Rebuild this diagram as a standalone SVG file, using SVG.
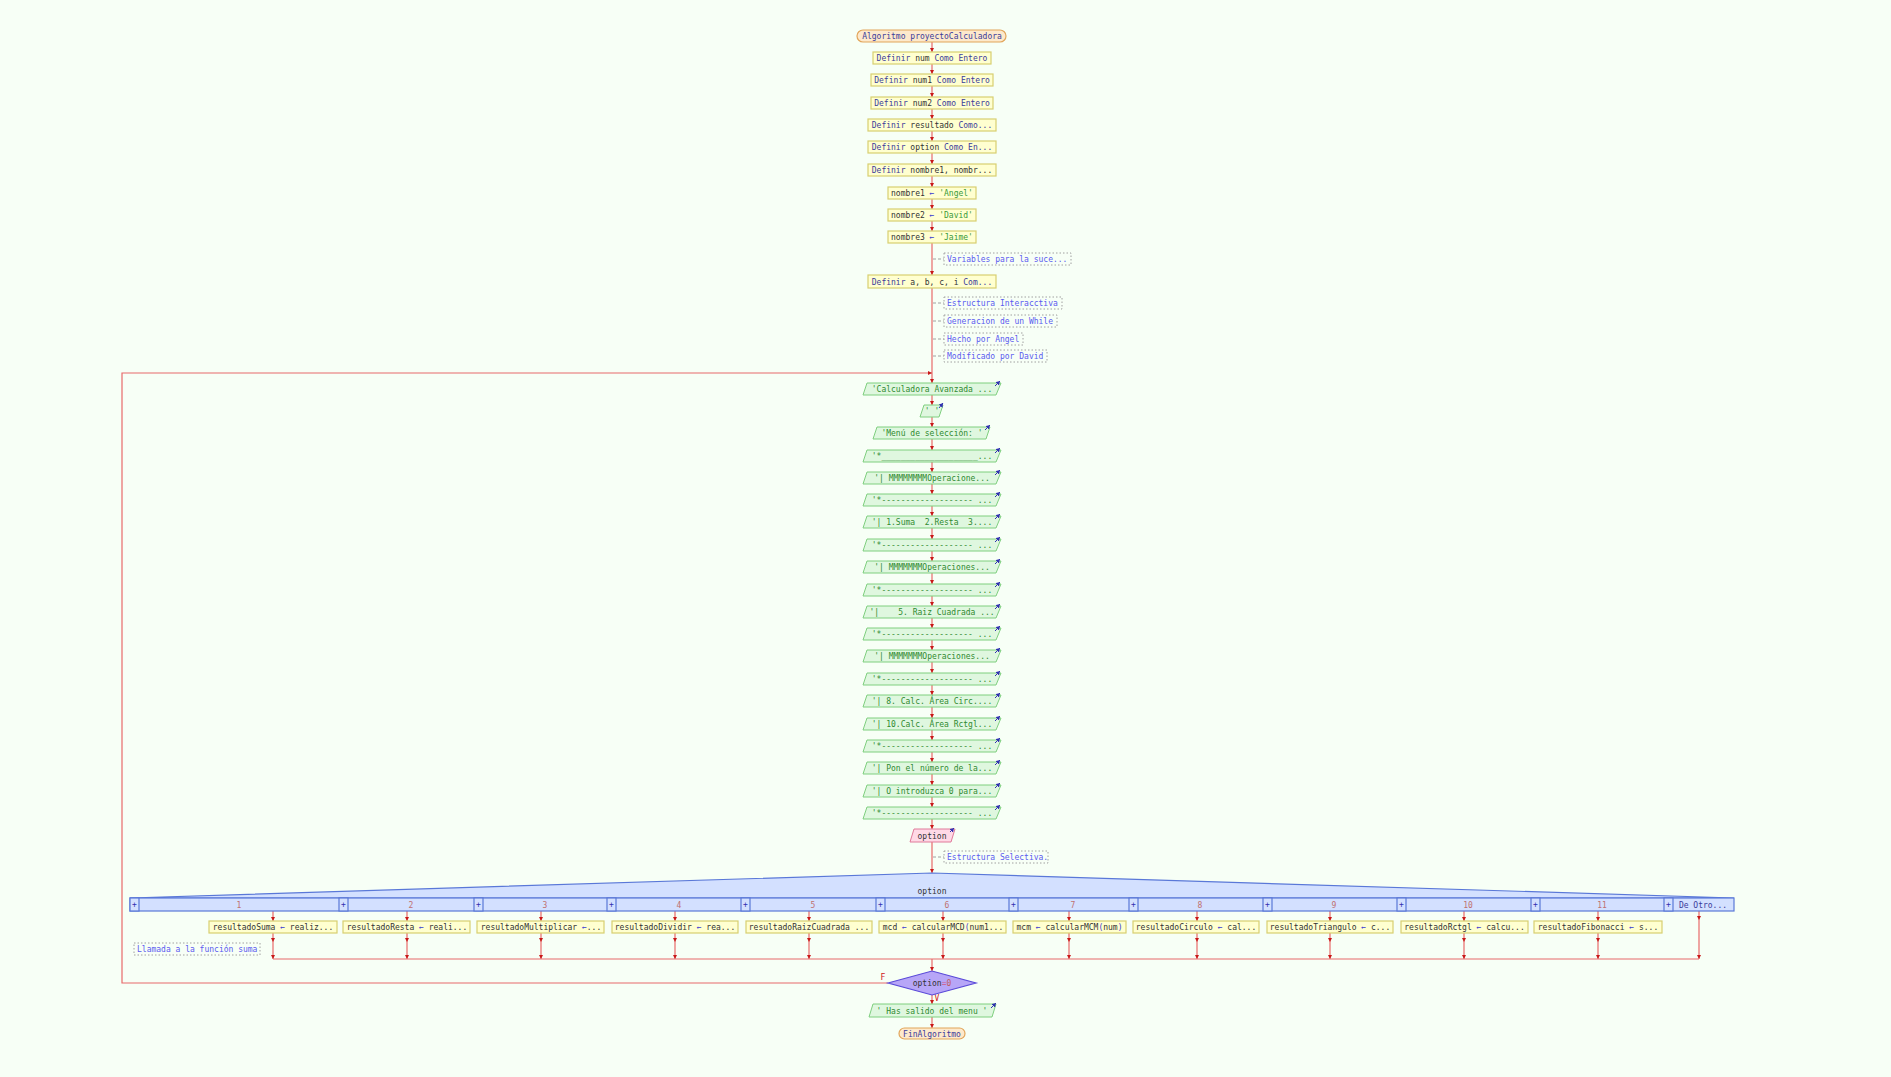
<svg xmlns="http://www.w3.org/2000/svg" width="1891" height="1077" viewBox="0 0 1891 1077">
<defs>
<marker id="ah" markerWidth="5" markerHeight="5" refX="4" refY="2" orient="auto" markerUnits="userSpaceOnUse"><path d="M0,0 L4,2 L0,4 z" fill="#c81818"/></marker>
<marker id="bh" markerWidth="5" markerHeight="5" refX="4" refY="2.5" orient="auto" markerUnits="userSpaceOnUse"><path d="M0,0 L4,2.5 L0,5 z" fill="#3030b0"/></marker>
</defs>
<style>
text{font-family:"DejaVu Sans Mono","Liberation Mono",monospace;font-size:8px;white-space:pre;}
.t{fill:#fde9cc;stroke:#e2a55a;stroke-width:1.2}
.p{fill:#ffffd0;stroke:#d8cf70;stroke-width:1.2}
.io{fill:#dff7df;stroke:#7fcf7f;stroke-width:1}
.in{fill:#ffd9e6;stroke:#e07a9a;stroke-width:1}
.sw{fill:#d3e0ff;stroke:#5a78d8;stroke-width:1.2}
.dm{fill:#b7a6f7;stroke:#5a4ad8;stroke-width:1.2}
.cb{fill:none;stroke:#a0a0a0;stroke-width:1;stroke-dasharray:1.5 2}
.c{stroke:#e86a6a;stroke-width:1.2;fill:none}
.cd{stroke:#a0a0a0;stroke-width:1;stroke-dasharray:3 2;fill:none}
.ic{stroke:#3030b0;stroke-width:1;fill:none}
.k{fill:#3b3b9a}
.v{fill:#333333}
.s{fill:#3a9a3a}
.a{fill:#3a3ad0}
.g{fill:#2f8a2f}
.cm{fill:#5a5af0}
.n{fill:#c07070}
.lb{fill:#d02020}
</style>
<rect width="1891" height="1077" fill="#f7fff6"/>

<g id="connectors">
<line class="c" x1="932" y1="42" x2="932" y2="52" marker-end="url(#ah)"/>
<line class="c" x1="932" y1="64" x2="932" y2="74" marker-end="url(#ah)"/>
<line class="c" x1="932" y1="86" x2="932" y2="97" marker-end="url(#ah)"/>
<line class="c" x1="932" y1="109" x2="932" y2="119" marker-end="url(#ah)"/>
<line class="c" x1="932" y1="131" x2="932" y2="141" marker-end="url(#ah)"/>
<line class="c" x1="932" y1="153" x2="932" y2="164" marker-end="url(#ah)"/>
<line class="c" x1="932" y1="176" x2="932" y2="187" marker-end="url(#ah)"/>
<line class="c" x1="932" y1="199" x2="932" y2="209" marker-end="url(#ah)"/>
<line class="c" x1="932" y1="221" x2="932" y2="231" marker-end="url(#ah)"/>
<line class="c" x1="932" y1="243" x2="932" y2="275" marker-end="url(#ah)"/>
<line class="c" x1="932" y1="288" x2="932" y2="383" marker-end="url(#ah)"/>
<line class="c" x1="932" y1="395" x2="932" y2="405" marker-end="url(#ah)"/>
<line class="c" x1="932" y1="417" x2="932" y2="427" marker-end="url(#ah)"/>
<line class="c" x1="932" y1="439" x2="932" y2="450" marker-end="url(#ah)"/>
<line class="c" x1="932" y1="462" x2="932" y2="472" marker-end="url(#ah)"/>
<line class="c" x1="932" y1="484" x2="932" y2="494" marker-end="url(#ah)"/>
<line class="c" x1="932" y1="506" x2="932" y2="516" marker-end="url(#ah)"/>
<line class="c" x1="932" y1="528" x2="932" y2="539" marker-end="url(#ah)"/>
<line class="c" x1="932" y1="551" x2="932" y2="561" marker-end="url(#ah)"/>
<line class="c" x1="932" y1="573" x2="932" y2="584" marker-end="url(#ah)"/>
<line class="c" x1="932" y1="596" x2="932" y2="606" marker-end="url(#ah)"/>
<line class="c" x1="932" y1="618" x2="932" y2="628" marker-end="url(#ah)"/>
<line class="c" x1="932" y1="640" x2="932" y2="650" marker-end="url(#ah)"/>
<line class="c" x1="932" y1="662" x2="932" y2="673" marker-end="url(#ah)"/>
<line class="c" x1="932" y1="685" x2="932" y2="695" marker-end="url(#ah)"/>
<line class="c" x1="932" y1="707" x2="932" y2="718" marker-end="url(#ah)"/>
<line class="c" x1="932" y1="730" x2="932" y2="740" marker-end="url(#ah)"/>
<line class="c" x1="932" y1="752" x2="932" y2="762" marker-end="url(#ah)"/>
<line class="c" x1="932" y1="774" x2="932" y2="785" marker-end="url(#ah)"/>
<line class="c" x1="932" y1="797" x2="932" y2="807" marker-end="url(#ah)"/>
<line class="c" x1="932" y1="819" x2="932" y2="829" marker-end="url(#ah)"/>
<line class="c" x1="932" y1="842" x2="932" y2="873" marker-end="url(#ah)"/>
<!-- comment links -->
<line class="cd" x1="933" y1="259" x2="944" y2="259"/>
<line class="cd" x1="933" y1="303" x2="944" y2="303"/>
<line class="cd" x1="933" y1="321" x2="944" y2="321"/>
<line class="cd" x1="933" y1="339" x2="944" y2="339"/>
<line class="cd" x1="933" y1="356" x2="944" y2="356"/>
<line class="cd" x1="933" y1="857" x2="944" y2="857"/>
<!-- switch branches -->
<g>
<line class="c" x1="273" y1="911" x2="273" y2="921" marker-end="url(#ah)"/><line class="c" x1="273" y1="933" x2="273" y2="942" marker-end="url(#ah)"/><line class="c" x1="273" y1="942" x2="273" y2="959" marker-end="url(#ah)"/>
<line class="c" x1="407" y1="911" x2="407" y2="921" marker-end="url(#ah)"/><line class="c" x1="407" y1="933" x2="407" y2="942" marker-end="url(#ah)"/><line class="c" x1="407" y1="942" x2="407" y2="959" marker-end="url(#ah)"/>
<line class="c" x1="541" y1="911" x2="541" y2="921" marker-end="url(#ah)"/><line class="c" x1="541" y1="933" x2="541" y2="942" marker-end="url(#ah)"/><line class="c" x1="541" y1="942" x2="541" y2="959" marker-end="url(#ah)"/>
<line class="c" x1="675" y1="911" x2="675" y2="921" marker-end="url(#ah)"/><line class="c" x1="675" y1="933" x2="675" y2="942" marker-end="url(#ah)"/><line class="c" x1="675" y1="942" x2="675" y2="959" marker-end="url(#ah)"/>
<line class="c" x1="809" y1="911" x2="809" y2="921" marker-end="url(#ah)"/><line class="c" x1="809" y1="933" x2="809" y2="942" marker-end="url(#ah)"/><line class="c" x1="809" y1="942" x2="809" y2="959" marker-end="url(#ah)"/>
<line class="c" x1="943" y1="911" x2="943" y2="921" marker-end="url(#ah)"/><line class="c" x1="943" y1="933" x2="943" y2="942" marker-end="url(#ah)"/><line class="c" x1="943" y1="942" x2="943" y2="959" marker-end="url(#ah)"/>
<line class="c" x1="1069" y1="911" x2="1069" y2="921" marker-end="url(#ah)"/><line class="c" x1="1069" y1="933" x2="1069" y2="942" marker-end="url(#ah)"/><line class="c" x1="1069" y1="942" x2="1069" y2="959" marker-end="url(#ah)"/>
<line class="c" x1="1197" y1="911" x2="1197" y2="921" marker-end="url(#ah)"/><line class="c" x1="1197" y1="933" x2="1197" y2="942" marker-end="url(#ah)"/><line class="c" x1="1197" y1="942" x2="1197" y2="959" marker-end="url(#ah)"/>
<line class="c" x1="1330" y1="911" x2="1330" y2="921" marker-end="url(#ah)"/><line class="c" x1="1330" y1="933" x2="1330" y2="942" marker-end="url(#ah)"/><line class="c" x1="1330" y1="942" x2="1330" y2="959" marker-end="url(#ah)"/>
<line class="c" x1="1464" y1="911" x2="1464" y2="921" marker-end="url(#ah)"/><line class="c" x1="1464" y1="933" x2="1464" y2="942" marker-end="url(#ah)"/><line class="c" x1="1464" y1="942" x2="1464" y2="959" marker-end="url(#ah)"/>
<line class="c" x1="1598" y1="911" x2="1598" y2="921" marker-end="url(#ah)"/><line class="c" x1="1598" y1="933" x2="1598" y2="942" marker-end="url(#ah)"/><line class="c" x1="1598" y1="942" x2="1598" y2="959" marker-end="url(#ah)"/>
<line class="c" x1="1699" y1="911" x2="1699" y2="920" marker-end="url(#ah)"/><line class="c" x1="1699" y1="920" x2="1699" y2="959" marker-end="url(#ah)"/>
</g>
<line class="c" x1="273" y1="959" x2="1699" y2="959"/>
<line class="c" x1="932" y1="959" x2="932" y2="971" marker-end="url(#ah)"/>
<!-- loop back -->
<polyline class="c" points="888,983 122,983 122,373 932,373" marker-end="url(#ah)"/>
<line class="c" x1="932" y1="995" x2="932" y2="1004" marker-end="url(#ah)"/>
<line class="c" x1="932" y1="1017" x2="932" y2="1028" marker-end="url(#ah)"/>
<text class="lb" x="883" y="980" text-anchor="middle" font-size="7">F</text>
<text class="lb" x="937" y="1001" text-anchor="middle" font-size="7">V</text>
</g>

<g id="n-start"><rect class="t" x="857" y="30" width="149" height="12" rx="6"/><text x="932" y="39" text-anchor="middle" class="k">Algoritmo proyectoCalculadora</text></g>
<g id="n-def1"><rect class="p" x="873" y="52" width="118" height="12"/><text x="932" y="61" text-anchor="middle"><tspan class="k">Definir</tspan><tspan class="v"> num </tspan><tspan class="k">Como Entero</tspan></text></g>
<g id="n-def2"><rect class="p" x="871" y="74" width="122" height="12"/><text x="932" y="83" text-anchor="middle"><tspan class="k">Definir</tspan><tspan class="v"> num1 </tspan><tspan class="k">Como Entero</tspan></text></g>
<g id="n-def3"><rect class="p" x="871" y="97" width="122" height="12"/><text x="932" y="106" text-anchor="middle"><tspan class="k">Definir</tspan><tspan class="v"> num2 </tspan><tspan class="k">Como Entero</tspan></text></g>
<g id="n-def4"><rect class="p" x="868" y="119" width="128" height="12"/><text x="932" y="128" text-anchor="middle"><tspan class="k">Definir</tspan><tspan class="v"> resultado </tspan><tspan class="k">Como...</tspan></text></g>
<g id="n-def5"><rect class="p" x="868" y="141" width="128" height="12"/><text x="932" y="150" text-anchor="middle"><tspan class="k">Definir</tspan><tspan class="v"> option </tspan><tspan class="k">Como En...</tspan></text></g>
<g id="n-def6"><rect class="p" x="868" y="164" width="128" height="12"/><text x="932" y="173" text-anchor="middle"><tspan class="k">Definir</tspan><tspan class="v"> nombre1, nombr...</tspan></text></g>
<g id="n-as1"><rect class="p" x="888" y="187" width="88" height="12"/><text x="932" y="196" text-anchor="middle"><tspan class="v">nombre1 </tspan><tspan class="a">←</tspan><tspan class="s"> 'Angel'</tspan></text></g>
<g id="n-as2"><rect class="p" x="888" y="209" width="88" height="12"/><text x="932" y="218" text-anchor="middle"><tspan class="v">nombre2 </tspan><tspan class="a">←</tspan><tspan class="s"> 'David'</tspan></text></g>
<g id="n-as3"><rect class="p" x="888" y="231" width="88" height="12"/><text x="932" y="240" text-anchor="middle"><tspan class="v">nombre3 </tspan><tspan class="a">←</tspan><tspan class="s"> 'Jaime'</tspan></text></g>
<g id="c-var"><rect class="cb" x="944" y="253" width="127" height="12"/><text x="947" y="262" class="cm">Variables para la suce...</text></g>
<g id="n-def7"><rect class="p" x="868" y="275" width="128" height="13"/><text x="932" y="284.5" text-anchor="middle"><tspan class="k">Definir</tspan><tspan class="v"> a, b, c, i </tspan><tspan class="k">Com...</tspan></text></g>
<g id="c-est"><rect class="cb" x="944" y="297" width="118" height="12"/><text x="947" y="306" class="cm">Estructura Interacctiva</text></g>
<g id="c-gen"><rect class="cb" x="944" y="315" width="113" height="12"/><text x="947" y="324" class="cm">Generacion de un While</text></g>
<g id="c-hec"><rect class="cb" x="944" y="333" width="79" height="12"/><text x="947" y="342" class="cm">Hecho por Angel</text></g>
<g id="c-mod"><rect class="cb" x="944" y="350" width="103" height="12"/><text x="947" y="359" class="cm">Modificado por David</text></g>

<g id="outputs">
<g id="o1"><polygon class="io" points="867,383 1001,383 996,395 863,395"/><text x="932" y="392" text-anchor="middle" class="g">'Calculadora Avanzada ...</text><line class="ic" x1="995" y1="386" x2="1000" y2="381" marker-end="url(#bh)"/></g>
<g id="o2"><polygon class="io" points="924,405 943,405 939,417 920,417"/><text x="932" y="414" text-anchor="middle" class="g">' '</text><line class="ic" x1="939" y1="408" x2="943" y2="403" marker-end="url(#bh)"/></g>
<g id="o3"><polygon class="io" points="877,427 990,427 986,439 873,439"/><text x="932" y="436" text-anchor="middle" class="g">'Menú de selección: '</text><line class="ic" x1="985" y1="430" x2="990" y2="425" marker-end="url(#bh)"/></g>
<g id="o4"><polygon class="io" points="867,450 1001,450 996,462 863,462"/><text x="932" y="459" text-anchor="middle" class="g">'*____________________...</text><line class="ic" x1="995" y1="453" x2="1000" y2="448" marker-end="url(#bh)"/></g>
<g id="o5"><polygon class="io" points="867,472 1001,472 996,484 863,484"/><text x="932" y="481" text-anchor="middle" class="g">'| MMMMMMMMOperacione...</text><line class="ic" x1="995" y1="475" x2="1000" y2="470" marker-end="url(#bh)"/></g>
<g id="o6"><polygon class="io" points="867,494 1001,494 996,506 863,506"/><text x="932" y="503" text-anchor="middle" class="g">'*------------------- ...</text><line class="ic" x1="995" y1="497" x2="1000" y2="492" marker-end="url(#bh)"/></g>
<g id="o7"><polygon class="io" points="867,516 1001,516 996,528 863,528"/><text x="932" y="525" text-anchor="middle" class="g">'| 1.Suma  2.Resta  3....</text><line class="ic" x1="995" y1="519" x2="1000" y2="514" marker-end="url(#bh)"/></g>
<g id="o8"><polygon class="io" points="867,539 1001,539 996,551 863,551"/><text x="932" y="548" text-anchor="middle" class="g">'*------------------- ...</text><line class="ic" x1="995" y1="542" x2="1000" y2="537" marker-end="url(#bh)"/></g>
<g id="o9"><polygon class="io" points="867,561 1001,561 996,573 863,573"/><text x="932" y="570" text-anchor="middle" class="g">'| MMMMMMMOperaciones...</text><line class="ic" x1="995" y1="564" x2="1000" y2="559" marker-end="url(#bh)"/></g>
<g id="o10"><polygon class="io" points="867,584 1001,584 996,596 863,596"/><text x="932" y="593" text-anchor="middle" class="g">'*------------------- ...</text><line class="ic" x1="995" y1="587" x2="1000" y2="582" marker-end="url(#bh)"/></g>
<g id="o11"><polygon class="io" points="867,606 1001,606 996,618 863,618"/><text x="932" y="615" text-anchor="middle" class="g">'|    5. Raiz Cuadrada ...</text><line class="ic" x1="995" y1="609" x2="1000" y2="604" marker-end="url(#bh)"/></g>
<g id="o12"><polygon class="io" points="867,628 1001,628 996,640 863,640"/><text x="932" y="637" text-anchor="middle" class="g">'*------------------- ...</text><line class="ic" x1="995" y1="631" x2="1000" y2="626" marker-end="url(#bh)"/></g>
<g id="o13"><polygon class="io" points="867,650 1001,650 996,662 863,662"/><text x="932" y="659" text-anchor="middle" class="g">'| MMMMMMMOperaciones...</text><line class="ic" x1="995" y1="653" x2="1000" y2="648" marker-end="url(#bh)"/></g>
<g id="o14"><polygon class="io" points="867,673 1001,673 996,685 863,685"/><text x="932" y="682" text-anchor="middle" class="g">'*------------------- ...</text><line class="ic" x1="995" y1="676" x2="1000" y2="671" marker-end="url(#bh)"/></g>
<g id="o15"><polygon class="io" points="867,695 1001,695 996,707 863,707"/><text x="932" y="704" text-anchor="middle" class="g">'| 8. Calc. Área Circ....</text><line class="ic" x1="995" y1="698" x2="1000" y2="693" marker-end="url(#bh)"/></g>
<g id="o16"><polygon class="io" points="867,718 1001,718 996,730 863,730"/><text x="932" y="727" text-anchor="middle" class="g">'| 10.Calc. Área Rctgl...</text><line class="ic" x1="995" y1="721" x2="1000" y2="716" marker-end="url(#bh)"/></g>
<g id="o17"><polygon class="io" points="867,740 1001,740 996,752 863,752"/><text x="932" y="749" text-anchor="middle" class="g">'*------------------- ...</text><line class="ic" x1="995" y1="743" x2="1000" y2="738" marker-end="url(#bh)"/></g>
<g id="o18"><polygon class="io" points="867,762 1001,762 996,774 863,774"/><text x="932" y="771" text-anchor="middle" class="g">'| Pon el número de la...</text><line class="ic" x1="995" y1="765" x2="1000" y2="760" marker-end="url(#bh)"/></g>
<g id="o19"><polygon class="io" points="867,785 1001,785 996,797 863,797"/><text x="932" y="794" text-anchor="middle" class="g">'| O introduzca 0 para...</text><line class="ic" x1="995" y1="788" x2="1000" y2="783" marker-end="url(#bh)"/></g>
<g id="o20"><polygon class="io" points="867,807 1001,807 996,819 863,819"/><text x="932" y="816" text-anchor="middle" class="g">'*------------------- ...</text><line class="ic" x1="995" y1="810" x2="1000" y2="805" marker-end="url(#bh)"/></g>
</g>

<g id="n-read"><polygon class="in" points="914,829 955,829 951,842 910,842"/><text x="932" y="838.5" text-anchor="middle" class="v">option</text><line class="ic" x1="950" y1="832" x2="954" y2="828" marker-end="url(#bh)"/></g>
<g id="c-sel"><rect class="cb" x="944" y="851" width="104" height="12"/><text x="947" y="860" class="cm">Estructura Selectiva.</text></g>

<g id="n-switch">
<polygon class="sw" points="130,898 932,873 1734,898"/>
<rect class="sw" x="130" y="898" width="1604" height="13"/>
<text x="932" y="894" text-anchor="middle" class="v">option</text>
<g fill="#d3e0ff" stroke="#5a78d8" stroke-width="1.2">
<rect x="130" y="898" width="9" height="13"/><rect x="339" y="898" width="9" height="13"/><rect x="474" y="898" width="9" height="13"/><rect x="607" y="898" width="9" height="13"/><rect x="741" y="898" width="9" height="13"/><rect x="876" y="898" width="9" height="13"/><rect x="1009" y="898" width="9" height="13"/><rect x="1129" y="898" width="9" height="13"/><rect x="1263" y="898" width="9" height="13"/><rect x="1397" y="898" width="9" height="13"/><rect x="1531" y="898" width="9" height="13"/><rect x="1664" y="898" width="9" height="13"/>
</g>
<g fill="#3030b0" font-size="7" text-anchor="middle">
<text x="134.5" y="907">+</text><text x="343.5" y="907">+</text><text x="478.5" y="907">+</text><text x="611.5" y="907">+</text><text x="745.5" y="907">+</text><text x="880.5" y="907">+</text><text x="1013.5" y="907">+</text><text x="1133.5" y="907">+</text><text x="1267.5" y="907">+</text><text x="1401.5" y="907">+</text><text x="1535.5" y="907">+</text><text x="1668.5" y="907">+</text>
</g>
<g class="n" text-anchor="middle">
<text x="239" y="907.5">1</text><text x="411" y="907.5">2</text><text x="545" y="907.5">3</text><text x="679" y="907.5">4</text><text x="813" y="907.5">5</text><text x="947" y="907.5">6</text><text x="1073" y="907.5">7</text><text x="1200" y="907.5">8</text><text x="1334" y="907.5">9</text><text x="1468" y="907.5">10</text><text x="1602" y="907.5">11</text>
</g>
<text x="1703" y="907.5" class="k" text-anchor="middle">De Otro...</text>
</g>

<g id="cases">
<g id="p1"><rect class="p" x="209" y="921" width="128" height="12"/><text x="273" y="930" text-anchor="middle"><tspan class="v">resultadoSuma </tspan><tspan class="a">←</tspan><tspan class="v"> realiz...</tspan></text></g>
<g id="p2"><rect class="p" x="343" y="921" width="127" height="12"/><text x="407" y="930" text-anchor="middle"><tspan class="v">resultadoResta </tspan><tspan class="a">←</tspan><tspan class="v"> reali...</tspan></text></g>
<g id="p3"><rect class="p" x="477" y="921" width="127" height="12"/><text x="541" y="930" text-anchor="middle"><tspan class="v">resultadoMultiplicar </tspan><tspan class="a">←</tspan><tspan class="v">...</tspan></text></g>
<g id="p4"><rect class="p" x="612" y="921" width="126" height="12"/><text x="675" y="930" text-anchor="middle"><tspan class="v">resultadoDividir </tspan><tspan class="a">←</tspan><tspan class="v"> rea...</tspan></text></g>
<g id="p5"><rect class="p" x="746" y="921" width="126" height="12"/><text x="809" y="930" text-anchor="middle" class="v">resultadoRaizCuadrada ...</text></g>
<g id="p6"><rect class="p" x="879" y="921" width="127" height="12"/><text x="943" y="930" text-anchor="middle"><tspan class="v">mcd </tspan><tspan class="a">←</tspan><tspan class="v"> calcularMCD</tspan><tspan class="a">(</tspan><tspan class="v">num1...</tspan></text></g>
<g id="p7"><rect class="p" x="1013" y="921" width="113" height="12"/><text x="1069.5" y="930" text-anchor="middle"><tspan class="v">mcm </tspan><tspan class="a">←</tspan><tspan class="v"> calcularMCM</tspan><tspan class="a">(</tspan><tspan class="v">num</tspan><tspan class="a">)</tspan></text></g>
<g id="p8"><rect class="p" x="1133" y="921" width="126" height="12"/><text x="1196" y="930" text-anchor="middle"><tspan class="v">resultadoCirculo </tspan><tspan class="a">←</tspan><tspan class="v"> cal...</tspan></text></g>
<g id="p9"><rect class="p" x="1267" y="921" width="126" height="12"/><text x="1330" y="930" text-anchor="middle"><tspan class="v">resultadoTriangulo </tspan><tspan class="a">←</tspan><tspan class="v"> c...</tspan></text></g>
<g id="p10"><rect class="p" x="1401" y="921" width="127" height="12"/><text x="1464.5" y="930" text-anchor="middle"><tspan class="v">resultadoRctgl </tspan><tspan class="a">←</tspan><tspan class="v"> calcu...</tspan></text></g>
<g id="p11"><rect class="p" x="1534" y="921" width="128" height="12"/><text x="1598" y="930" text-anchor="middle"><tspan class="v">resultadoFibonacci </tspan><tspan class="a">←</tspan><tspan class="v"> s...</tspan></text></g>
</g>
<g id="c-llam"><rect class="cb" x="134" y="943" width="126" height="12"/><text x="137" y="952" class="cm">Llamada a la función suma</text></g>

<g id="n-cond"><polygon class="dm" points="888,983 932,971 976,983 932,995"/><text x="932" y="986" text-anchor="middle"><tspan class="v">option</tspan><tspan fill="#d05a8a">=</tspan><tspan fill="#c06060">0</tspan></text></g>
<g id="n-out"><polygon class="io" points="873,1004 996,1004 992,1017 869,1017"/><text x="932" y="1013.5" text-anchor="middle" class="g">' Has salido del menu '</text><line class="ic" x1="991" y1="1008" x2="996" y2="1003" marker-end="url(#bh)"/></g>
<g id="n-end"><rect class="t" x="899" y="1028" width="66" height="11" rx="5.5"/><text x="932" y="1036.5" text-anchor="middle" class="k">FinAlgoritmo</text></g>
</svg>
